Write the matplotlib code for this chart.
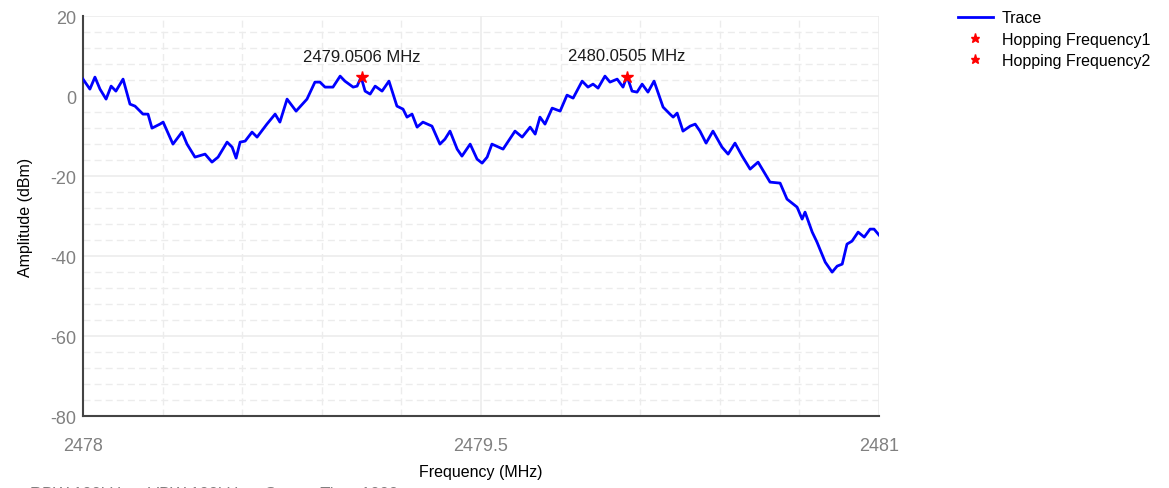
import matplotlib.pyplot as plt
from matplotlib.ticker import MultipleLocator

plt.rcParams['font.family'] = ['Liberation Sans', 'DejaVu Sans']
plt.rcParams['axes.unicode_minus'] = False

# trace (MHz, dBm)
freq = [2478.000, 2478.026, 2478.045, 2478.064, 2478.087, 2478.106, 2478.124, 2478.151,
        2478.177, 2478.196, 2478.226, 2478.245, 2478.260, 2478.290, 2478.302, 2478.339,
        2478.373, 2478.392, 2478.422, 2478.460, 2478.486, 2478.509, 2478.543, 2478.562,
        2478.577, 2478.592, 2478.611, 2478.637, 2478.656, 2478.693, 2478.724, 2478.742,
        2478.769, 2478.803, 2478.844, 2478.874, 2478.893, 2478.912, 2478.942, 2478.969,
        2478.987, 2479.018, 2479.033, 2479.048, 2479.063, 2479.082, 2479.101, 2479.127,
        2479.153, 2479.183, 2479.206, 2479.221, 2479.240, 2479.259, 2479.281, 2479.315,
        2479.345, 2479.364, 2479.383, 2479.410, 2479.428, 2479.459, 2479.485, 2479.504,
        2479.523, 2479.541, 2479.583, 2479.628, 2479.655, 2479.685, 2479.704, 2479.722,
        2479.741, 2479.768, 2479.798, 2479.824, 2479.847, 2479.881, 2479.903, 2479.922,
        2479.941, 2479.967, 2479.986, 2480.013, 2480.035, 2480.050, 2480.069, 2480.088,
        2480.107, 2480.129, 2480.152, 2480.186, 2480.212, 2480.224, 2480.239, 2480.261,
        2480.288, 2480.307, 2480.325, 2480.348, 2480.374, 2480.408, 2480.431, 2480.457,
        2480.484, 2480.514, 2480.544, 2480.589, 2480.627, 2480.653, 2480.691, 2480.710,
        2480.721, 2480.748, 2480.766, 2480.797, 2480.823, 2480.842, 2480.861, 2480.879,
        2480.898, 2480.921, 2480.944, 2480.966, 2480.981, 2481.000]
amp = [4.25, 1.75, 4.75, 1.75, -0.75, 2.5, 1.25, 4.25,
       -2.0, -2.5, -4.5, -4.5, -8.0, -7.0, -6.5, -12.0,
       -9.0, -12.0, -15.25, -14.5, -16.5, -15.25, -11.5, -12.75,
       -15.5, -11.5, -11.25, -9.0, -10.25, -7.0, -4.5, -6.5,
       -0.75, -3.75, -0.75, 3.5, 3.5, 2.25, 2.25, 5.0,
       3.75, 2.25, 2.5, 4.75, 1.25, 0.5, 2.5, 1.25,
       3.75, -2.5, -3.25, -5.25, -4.5, -7.75, -6.5, -7.5,
       -12.0, -10.75, -8.75, -13.25, -15.0, -12.0, -15.75, -16.75,
       -15.25, -12.0, -13.25, -8.75, -10.25, -7.75, -9.5, -5.25,
       -7.0, -3.0, -3.75, 0.25, -0.5, 3.75, 2.25, 3.0,
       2.0, 5.0, 3.5, 4.25, 2.25, 5.0, 1.25, 1.0,
       3.0, 1.0, 3.75, -2.75, -4.5, -5.25, -4.25, -8.75,
       -7.5, -7.0, -8.75, -11.75, -8.75, -12.75, -14.5, -11.75,
       -15.0, -18.25, -16.5, -21.5, -21.75, -25.75, -27.75, -30.75,
       -29.0, -34.0, -36.5, -41.5, -44.0, -42.5, -42.0, -37.0,
       -36.25, -34.0, -35.25, -33.25, -33.25, -34.75]

hop_freq = [2479.0506, 2480.0505]
hop_amp = [4.8, 4.9]
hop_labels = ['Hopping Frequency1', 'Hopping Frequency2']

fig = plt.figure(figsize=(11.69, 4.89), dpi=100)
ax = fig.add_axes([0.071, 0.147, 0.681, 0.818])

ax.plot(freq, amp, color='#0000ff', lw=2.0, label='Trace', zorder=3)
for f, a, lab in zip(hop_freq, hop_amp, hop_labels):
    ax.plot(f, a, marker='*', ms=9, color='#ff0000', ls='none', label=lab, zorder=4)
    ax.text(f, a + 3.3, f'{f:.4f} MHz', ha='center', va='bottom', fontsize=12, color='#1a1a1a')

ax.set_xlim(2478, 2481)
ax.set_ylim(-80, 20)
ax.xaxis.set_major_locator(MultipleLocator(1.5))
ax.xaxis.set_minor_locator(MultipleLocator(0.3))
ax.yaxis.set_major_locator(MultipleLocator(20))
ax.yaxis.set_minor_locator(MultipleLocator(4))
ax.xaxis.set_major_formatter(lambda v, p: f'{v:g}')

ax.grid(which='major', color='#ececec', lw=1.2, ls='-')
ax.grid(which='minor', color='#ececec', lw=1.0, ls=(0, (5, 3)))
ax.set_axisbelow(True)

for s in ['top', 'right']:
    ax.spines[s].set_visible(False)
for s in ['left', 'bottom']:
    ax.spines[s].set_color('#444444')
    ax.spines[s].set_linewidth(1.5)

ax.tick_params(which='both', length=0)
ax.tick_params(axis='x', labelsize=13, labelcolor='#808080', pad=15)
ax.tick_params(axis='y', labelsize=13, labelcolor='#808080', pad=5)

ax.set_xlabel('Frequency (MHz)', fontsize=11.5, labelpad=7)
ax.set_ylabel('Amplitude (dBm)', fontsize=11.5, labelpad=12)

fig.legend(loc='upper left', bbox_to_anchor=(0.807, 1.006), frameon=False,
           fontsize=11.5, handlelength=2.2, handletextpad=0.55, labelspacing=0.38,
           markerscale=0.75)

fig.text(0.026, 0.005, 'RBW:100kHz    VBW:100kHz    Sweep Time:1000ms', fontsize=12,
         color='#808080', va='top')

fig.savefig('out.png', dpi=100)
